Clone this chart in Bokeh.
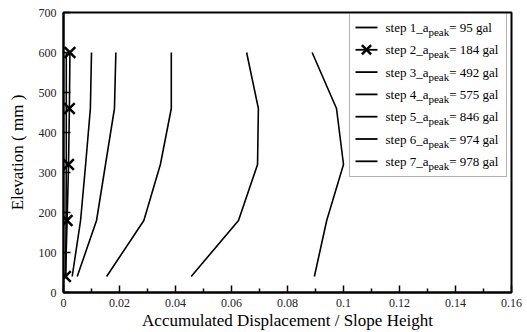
from bokeh.plotting import figure
from bokeh.models import FixedTicker, NumeralTickFormatter, Label, BoxAnnotation, Range1d
from bokeh.embed import file_html
from bokeh.resources import INLINE

# ---------------- data ----------------
elevation = [40, 180, 320, 460, 600]
step1 = [0.0008, 0.0009, 0.0010, 0.0010, 0.0010]
step2 = [0.0007, 0.0013, 0.0018, 0.0021, 0.0023]
step3 = [0.0031, 0.0061, 0.0079, 0.0096, 0.0100]
step4 = [0.0049, 0.0118, 0.0150, 0.0182, 0.0187]
step5 = [0.0154, 0.0287, 0.0346, 0.0385, 0.0385]
step6 = [0.0456, 0.0625, 0.0693, 0.0696, 0.0654]
step7 = [0.0896, 0.0940, 0.1000, 0.0975, 0.0888]
series = [step1, step2, step3, step4, step5, step6, step7]
step_names = ["step 1", "step 2", "step 3", "step 4", "step 5", "step 6", "step 7"]
peak_gal = ["95", "184", "492", "575", "846", "974", "978"]
x_ticks = [0, 0.02, 0.04, 0.06, 0.08, 0.10, 0.12, 0.14, 0.16]
x_minor = [0.01, 0.03, 0.05, 0.07, 0.09, 0.11, 0.13, 0.15]
y_ticks = [0, 100, 200, 300, 400, 500, 600, 700]

FONT = "Liberation Serif"
W, H = 527, 332
FL, FR, FT, FB = 63, 511, 12, 292  # frame pixel edges
XMAX, YMAX = 0.16, 700

p = figure(width=W, height=H, output_backend="svg", toolbar_location=None,
           x_range=Range1d(0, XMAX), y_range=Range1d(0, YMAX),
           min_border_left=FL, min_border_right=W - FR,
           min_border_top=FT, min_border_bottom=H - FB)
p.background_fill_color = "white"
p.border_fill_color = "white"
p.outline_line_color = "black"
p.outline_line_width = 2
p.xgrid.visible = False
p.ygrid.visible = False

xa = p.xaxis[0]
xa.ticker = FixedTicker(ticks=x_ticks, minor_ticks=x_minor)
xa.formatter = NumeralTickFormatter(format="0.[00]")
ya = p.yaxis[0]
ya.ticker = FixedTicker(ticks=y_ticks, minor_ticks=[])
for ax in (xa, ya):
    ax.axis_line_color = "black"
    ax.axis_line_width = 2
    ax.major_tick_in = 7
    ax.major_tick_out = 0
    ax.minor_tick_in = 4
    ax.minor_tick_out = 0
    ax.major_tick_line_width = 1.5
    ax.minor_tick_line_width = 1.5
    ax.major_label_text_font = FONT
    ax.major_label_text_font_size = "12px"
    ax.major_label_text_color = "#222222"
    ax.axis_label_text_font = FONT
    ax.axis_label_text_font_style = "normal"
    ax.axis_label_text_font_size = "17px"
    ax.axis_label_text_color = "black"
xa.axis_label = "Accumulated Displacement / Slope Height"
ya.axis_label = "Elevation ( mm )"
xa.major_label_standoff = 6
xa.axis_label_standoff = 1
ya.major_label_standoff = 7
ya.axis_label_standoff = 9

for i, s in enumerate(series):
    p.line(s, elevation, line_color="black", line_width=1.6)
p.scatter(step2, elevation, marker="x", size=15, line_color="black", line_width=2.5)

# ---------------- legend (custom, for subscript) ----------------
def dx(px):
    return (px - FL) / (FR - FL) * XMAX

def dy(py):
    return (FB - py) / (FB - FT) * YMAX

TW = {"s": 389, "t": 278, "e": 444, "p": 500, " ": 250, "_": 500, "a": 444,
      "k": 500, "=": 564, "g": 500, "l": 278}
def tw(text, size):
    return sum(TW.get(c, 500) for c in text) * size / 1000.0

box = BoxAnnotation(left=dx(349), right=dx(506), top=dy(13), bottom=dy(176),
                    fill_color="white", fill_alpha=1.0, line_color="black",
                    line_width=1, level="annotation")
p.add_layout(box)

MAIN, SUB = 13, 11
row0, drow = 27, 22.3
for i in range(7):
    py = row0 + drow * i
    p.line([dx(355), dx(377)], [dy(py), dy(py)], line_color="black",
           line_width=1.8, level="overlay")
    if i == 1:
        p.scatter([dx(366)], [dy(py)], marker="x", size=13, line_color="black",
                  line_width=2.5, level="overlay")
    t1 = step_names[i] + "_a"
    t3 = "= " + peak_gal[i] + " gal"
    x0 = 385
    p.add_layout(Label(x=dx(x0), y=dy(py), text=t1, text_font=FONT,
                       text_font_size=f"{MAIN}px", text_baseline="middle",
                       text_color="black", level="overlay"))
    x1 = x0 + tw(t1, MAIN)
    p.add_layout(Label(x=dx(x1), y=dy(py + 4.5), text="peak", text_font=FONT,
                       text_font_size=f"{SUB}px", text_baseline="middle",
                       text_color="black", level="overlay"))
    x2 = x1 + tw("peak", SUB)
    p.add_layout(Label(x=dx(x2), y=dy(py), text=t3, text_font=FONT,
                       text_font_size=f"{MAIN}px", text_baseline="middle",
                       text_color="black", level="overlay"))

open("out.html", "w").write(file_html(p, INLINE))
